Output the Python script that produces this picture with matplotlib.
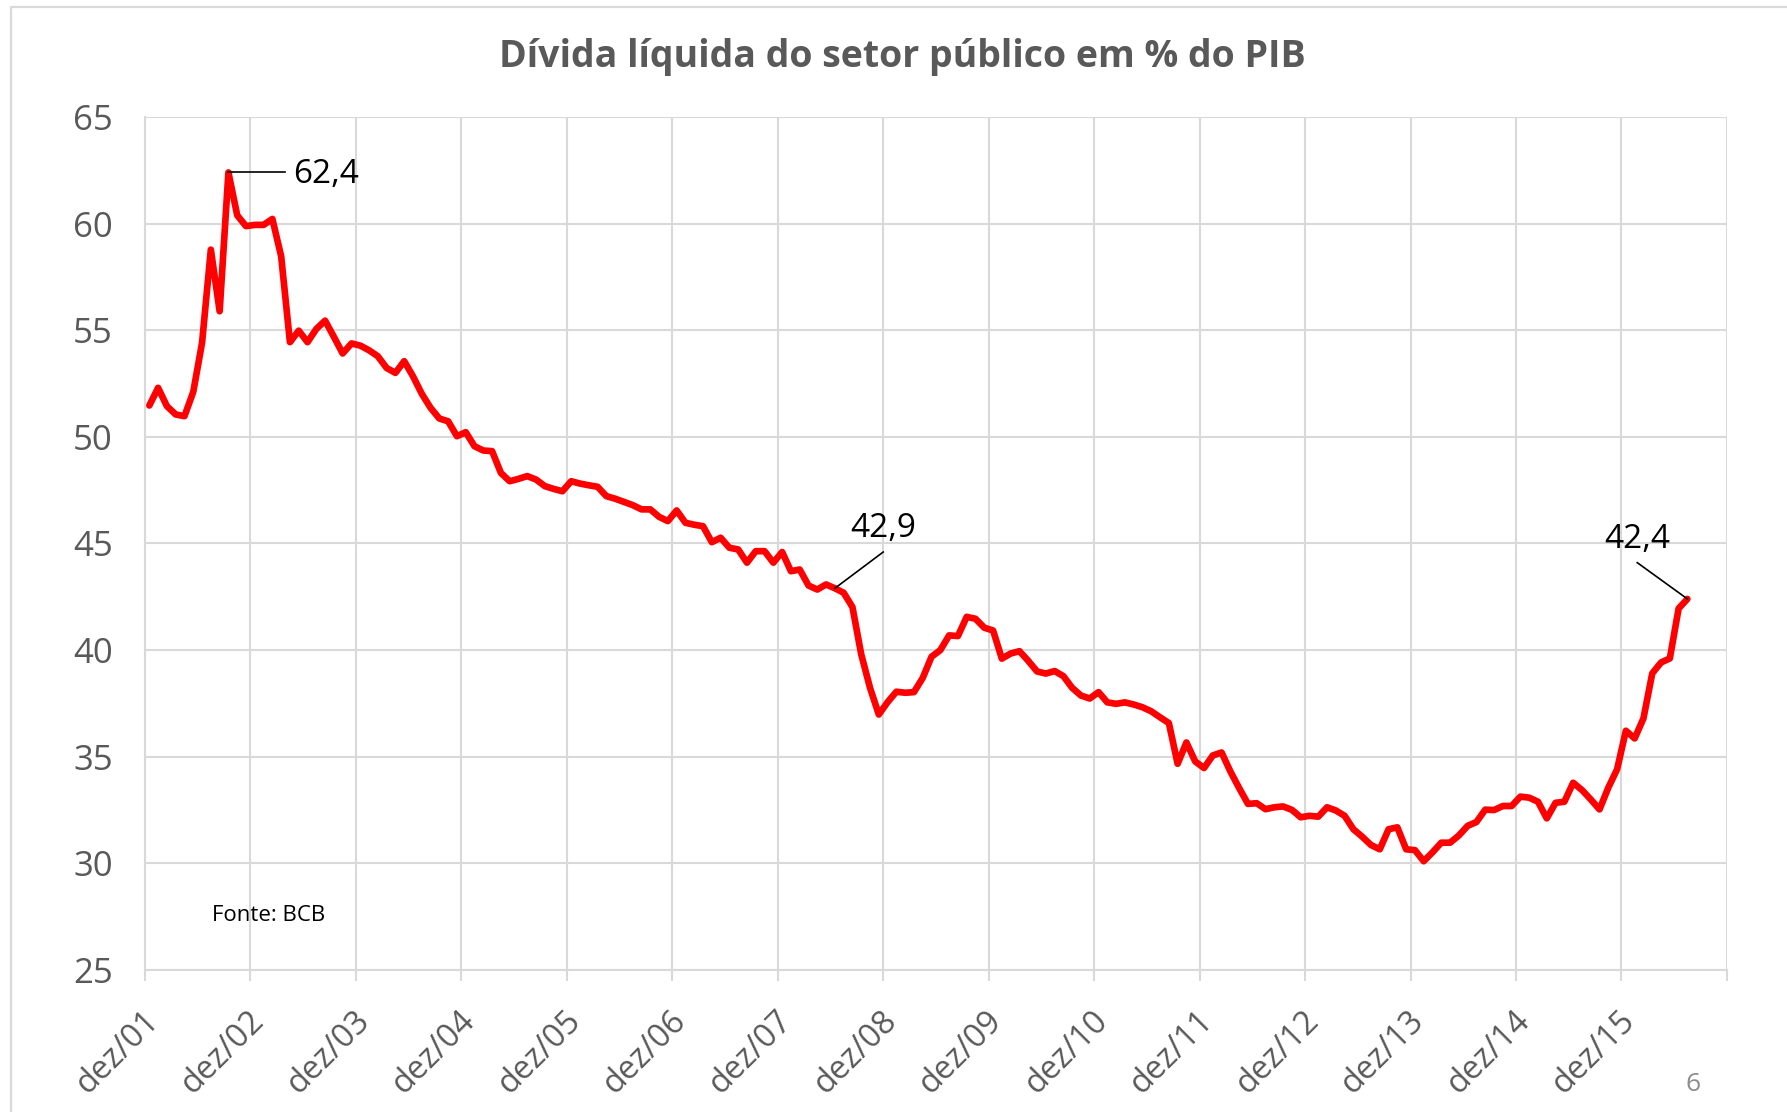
import matplotlib
matplotlib.use("Agg")
import matplotlib.pyplot as plt
from matplotlib.lines import Line2D
from matplotlib.transforms import ScaledTranslation

plt.rcParams['font.family'] = ['Open Sans', 'DejaVu Sans']

# ---- data (monthly, dez/01 .. jul/16) ----
dlsp = [51.47, 52.30, 51.44, 51.05, 50.97, 52.11, 54.41, 58.78, 55.89, 62.4,
        60.39, 59.88, 59.94, 59.94, 60.22, 58.47, 54.44, 54.98, 54.44, 55.06,
        55.45, 54.69, 53.91, 54.38, 54.28, 54.06, 53.78, 53.23, 53.0, 53.55,
        52.84, 52.02, 51.36, 50.86, 50.73, 50.03, 50.22, 49.56, 49.36, 49.33,
        48.31, 47.92, 48.03, 48.16, 48.0, 47.69, 47.56, 47.45, 47.92, 47.81,
        47.73, 47.66, 47.22, 47.1, 46.95, 46.8, 46.6, 46.6, 46.25, 46.05,
        46.55, 45.97, 45.88, 45.81, 45.06, 45.27, 44.8, 44.72, 44.1, 44.64,
        44.64, 44.1, 44.6, 43.7, 43.78, 43.03, 42.84, 43.08, 42.9, 42.69,
        42.02, 39.8, 38.23, 36.98, 37.56, 38.05, 38.0, 38.03, 38.7, 39.69,
        40.0, 40.69, 40.66, 41.56, 41.47, 41.05, 40.92, 39.6, 39.84, 39.95,
        39.5, 39.0, 38.9, 39.02, 38.78, 38.23, 37.87, 37.73, 38.03, 37.55,
        37.48, 37.55, 37.45, 37.32, 37.13, 36.85, 36.58, 34.67, 35.67, 34.78,
        34.47, 35.06, 35.2, 34.31, 33.53, 32.79, 32.82, 32.54, 32.63, 32.67,
        32.51, 32.16, 32.23, 32.19, 32.63, 32.48, 32.23, 31.6, 31.25, 30.86,
        30.66, 31.6, 31.69, 30.66, 30.62, 30.1, 30.52, 30.97, 30.97, 31.31,
        31.76, 31.94, 32.52, 32.5, 32.69, 32.69, 33.13, 33.08, 32.89, 32.11,
        32.84, 32.89, 33.78, 33.44, 33.0, 32.53, 33.55, 34.41, 36.22, 35.86,
        36.8, 38.91, 39.42, 39.61, 41.95, 42.4]

tick_labels = ["dez/01", "dez/02", "dez/03", "dez/04", "dez/05", "dez/06",
               "dez/07", "dez/08", "dez/09", "dez/10", "dez/11", "dez/12",
               "dez/13", "dez/14", "dez/15"]
y_ticks = [25, 30, 35, 40, 45, 50, 55, 60, 65]

# annotated points: (index, text)
annotations = [(9, "62,4"), (78, "42,9"), (175, "42,4")]

title = "Dívida líquida do setor público em % do PIB"
source = "Fonte: BCB"

GRAY_TXT = "#595959"
GRID = "#d9d9d9"

fig = plt.figure(figsize=(17.87, 11.12), dpi=100)
ax = fig.add_axes([0.0811, 0.1277, 0.8853, 0.7671])

x = [i + 0.5 for i in range(len(dlsp))]
ax.plot(x, dlsp, color="#ff0000", lw=4.8, solid_joinstyle="round",
        solid_capstyle="round", zorder=3)

n_slots = 12 * (len(tick_labels))
ax.set_xlim(0, n_slots)
ax.set_ylim(25, 65)
ax.set_yticks(y_ticks)
ax.set_yticklabels([str(v) for v in y_ticks])
ax.set_xticks(range(0, n_slots + 1, 12))
ax.set_xticklabels(tick_labels + [""])

ax.grid(True, color=GRID, lw=1.5, zorder=0)
for s in ["top", "right"]:
    ax.spines[s].set_visible(False)
for s in ["left", "bottom"]:
    ax.spines[s].set_color(GRID)
    ax.spines[s].set_linewidth(1.5)

ax.tick_params(axis="y", length=0, pad=23, labelsize=25, labelcolor=GRAY_TXT)
ax.tick_params(axis="x", length=8, width=1.5, color=GRID, pad=17,
               labelsize=23.5, labelcolor=GRAY_TXT)
off = ScaledTranslation(-0.03, 0, fig.dpi_scale_trans)
for lab in ax.get_xticklabels():
    lab.set_rotation(45)
    lab.set_ha("right")
    lab.set_va("top")
    lab.set_rotation_mode("anchor")
    lab.set_transform(lab.get_transform() + off)

# annotations with leader lines
i0, t0 = annotations[0]
ax.plot([x[i0], 15.9], [dlsp[i0], dlsp[i0]], color="black", lw=1.2, zorder=4)
ax.text(16.9, dlsp[i0] - 0.1, t0, ha="left", va="center", fontsize=24,
        color="black")

i1, t1 = annotations[1]
ax.plot([x[i1], 84.0], [dlsp[i1], 44.6], color="black", lw=1.2, zorder=4)
ax.text(84.0, 45.7, t1, ha="center", va="center", fontsize=24, color="black")

i2, t2 = annotations[2]
ax.plot([x[i2], 169.8], [dlsp[i2], 44.1], color="black", lw=1.2, zorder=4)
ax.text(169.8, 45.2, t2, ha="center", va="center", fontsize=24, color="black")

fig.text(0.505, 0.949, title, ha="center", va="center", fontsize=27,
         fontweight="bold", color=GRAY_TXT)
fig.text(0.1186, 0.177, source, ha="left", va="center", fontsize=16,
         color="black")
fig.text(0.9477, 0.025, "6", ha="center", va="center", fontsize=19,
         color="#8c8c8c")

# outer frame (top and left edges visible)
fig.add_artist(Line2D([0.0059, 0.0059, 1.0], [0.0, 0.9937, 0.9937],
                      transform=fig.transFigure, color=GRID, lw=1.6))

fig.savefig("out.png", dpi=100)
